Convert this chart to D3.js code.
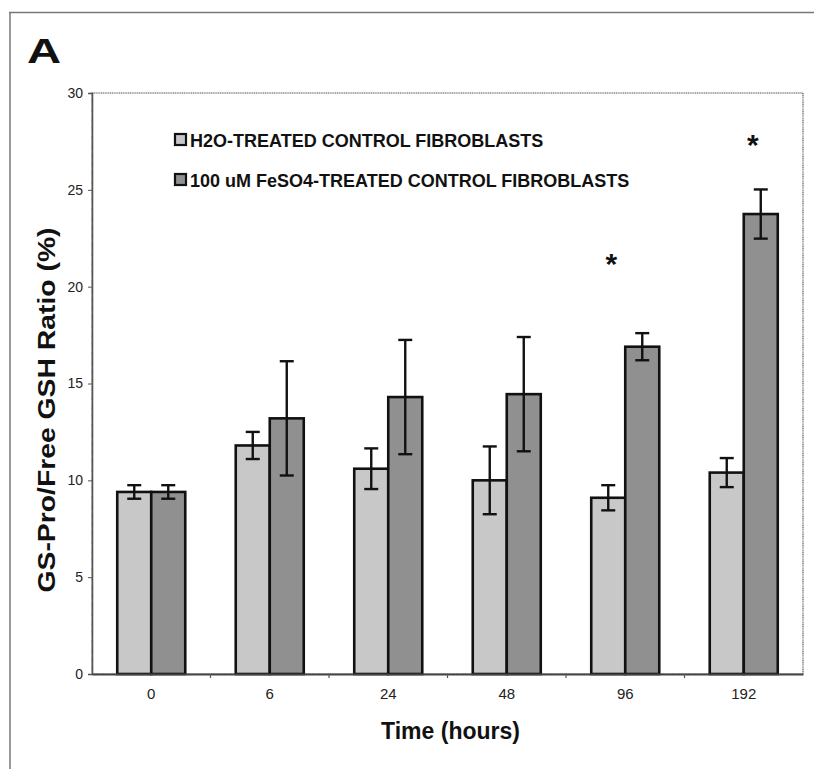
<!DOCTYPE html>
<html>
<head>
<meta charset="utf-8">
<script src="https://cdn.jsdelivr.net/npm/d3@7"></script>
<style>
  html, body { margin: 0; padding: 0; background: #fff; }
  svg { display: block; }
  text { font-family: "Liberation Sans", Arial, sans-serif; }
</style>
</head>
<body>
<svg id="chart" width="814" height="769"></svg>
<script>
// ---- data ----
const categories = ["0", "6", "24", "48", "96", "192"];
const seriesNames = ["H2O-TREATED CONTROL FIBROBLASTS", "100 uM FeSO4-TREATED CONTROL FIBROBLASTS"];
const h2oValues = [9.4, 11.8, 10.6, 10.0, 9.1, 10.4];
const h2oErrors = [0.35, 0.7, 1.05, 1.75, 0.65, 0.75];
const feValues = [9.4, 13.2, 14.3, 14.45, 16.9, 23.75];
const feErrors = [0.35, 2.95, 2.95, 2.95, 0.7, 1.27];
const yTicks = [0, 5, 10, 15, 20, 25, 30];
const asteriskCats = ["96", "192"];
const asteriskValues = [21.4, 27.5];
const asteriskShift = [-14, 9];
const panelLabel = "A";
const xTitle = "Time (hours)";
const yTitle = "GS-Pro/Free GSH Ratio (%)";

// ---- layout ----
const svg = d3.select("#chart");
const pLeft = 92, pRight = 803, pTop = 93, pBottom = 674;
const colors = ["#c8c8c8", "#909090"];

const x0 = d3.scaleBand().domain(categories).range([pLeft, pRight])
  .paddingInner(0.426).paddingOuter(0.213);
const x1 = d3.scaleBand().domain([0, 1]).range([0, x0.bandwidth()]);
const y = d3.scaleLinear().domain([0, 30]).range([pBottom, pTop]);

// figure frame (top and left lines)
svg.append("line").attr("x1", 9).attr("x2", 814).attr("y1", 12.5).attr("y2", 12.5)
  .attr("stroke", "#777").attr("stroke-width", 1.5);
svg.append("line").attr("x1", 10).attr("x2", 10).attr("y1", 12).attr("y2", 769)
  .attr("stroke", "#777").attr("stroke-width", 1.5);

// panel label
svg.append("text").attr("transform", "translate(27,63) scale(1.35,1)").text(panelLabel)
  .attr("font-size", 35).attr("font-weight", "bold").attr("fill", "#111");

// plot area border
svg.append("rect").attr("x", pLeft).attr("y", pTop)
  .attr("width", pRight - pLeft).attr("height", pBottom - pTop)
  .attr("fill", "none").attr("stroke", "#8a8a8a").attr("stroke-width", 1.6)
  .attr("stroke-dasharray", "1.2,0.6");

// bars
const data = categories.map((c, i) => ({
  cat: c,
  vals: [
    { s: 0, v: h2oValues[i], e: h2oErrors[i] },
    { s: 1, v: feValues[i], e: feErrors[i] }
  ]
}));

const groups = svg.append("g").selectAll("g").data(data).join("g")
  .attr("transform", d => `translate(${x0(d.cat)},0)`);

groups.selectAll("rect").data(d => d.vals).join("rect")
  .attr("x", d => x1(d.s))
  .attr("y", d => y(d.v))
  .attr("width", x1.bandwidth())
  .attr("height", d => y(0) - y(d.v))
  .attr("fill", d => colors[d.s])
  .attr("stroke", "#111").attr("stroke-width", 2.6);

// error bars
const capW = 7;
const eb = groups.selectAll("g.err").data(d => d.vals).join("g").attr("class", "err")
  .attr("stroke", "#111").attr("stroke-width", 2.4);
eb.append("line")
  .attr("x1", d => x1(d.s) + x1.bandwidth() / 2).attr("x2", d => x1(d.s) + x1.bandwidth() / 2)
  .attr("y1", d => y(d.v + d.e)).attr("y2", d => y(d.v - d.e));
eb.append("line")
  .attr("x1", d => x1(d.s) + x1.bandwidth() / 2 - capW).attr("x2", d => x1(d.s) + x1.bandwidth() / 2 + capW)
  .attr("y1", d => y(d.v + d.e)).attr("y2", d => y(d.v + d.e));
eb.append("line")
  .attr("x1", d => x1(d.s) + x1.bandwidth() / 2 - capW).attr("x2", d => x1(d.s) + x1.bandwidth() / 2 + capW)
  .attr("y1", d => y(d.v - d.e)).attr("y2", d => y(d.v - d.e));

// y axis
const yAxis = svg.append("g").attr("transform", `translate(${pLeft},0)`)
  .call(d3.axisLeft(y).tickValues(yTicks).tickSize(4).tickPadding(5));
yAxis.select(".domain").attr("stroke", "#555").attr("stroke-width", 1.6);
yAxis.selectAll(".tick line").attr("stroke", "#555");
yAxis.selectAll("text").attr("font-size", 14).attr("fill", "#222")
  .attr("font-family", "'Liberation Sans', Arial, sans-serif");

// x axis
const xAxis = svg.append("g").attr("transform", `translate(0,${pBottom})`)
  .call(d3.axisBottom(x0).tickSize(0).tickPadding(14));
xAxis.select(".domain").attr("stroke", "#444").attr("stroke-width", 1.8);
xAxis.selectAll("text").attr("font-size", 15).attr("fill", "#222")
  .attr("font-family", "'Liberation Sans', Arial, sans-serif");
// category separator ticks
const seps = categories.slice(1).map(c => x0(c) - x0.step() * x0.paddingInner() / 2);
svg.append("g").selectAll("line").data(seps).join("line")
  .attr("x1", d => d).attr("x2", d => d).attr("y1", pBottom).attr("y2", pBottom + 4)
  .attr("stroke", "#555").attr("stroke-width", 1.2);

// asterisks
svg.append("g").selectAll("text").data(asteriskCats).join("text")
  .attr("x", (d, i) => x0(d) + x0.bandwidth() / 2 + asteriskShift[i])
  .attr("y", (d, i) => y(asteriskValues[i]) + 14)
  .attr("text-anchor", "middle").attr("font-size", 30).attr("font-weight", "bold")
  .attr("fill", "#111").text("*");

// legend
const legend = svg.append("g").selectAll("g").data(seriesNames).join("g")
  .attr("transform", (d, i) => `translate(175,${140 + i * 40})`);
legend.append("rect").attr("x", 0).attr("y", -6).attr("width", 11).attr("height", 11)
  .attr("fill", (d, i) => colors[i]).attr("stroke", "#111").attr("stroke-width", 2.2);
legend.append("text").attr("x", 15).attr("y", 6.5).text(d => d)
  .attr("font-size", 18).attr("font-weight", "bold").attr("fill", "#111");

// axis titles
svg.append("text").attr("x", (pLeft + pRight) / 2 + 3).attr("y", 739)
  .attr("text-anchor", "middle").attr("font-size", 23).attr("font-weight", "bold")
  .attr("fill", "#111").text(xTitle);
svg.append("text").attr("transform", `translate(55,410) rotate(-90)`)
  .attr("text-anchor", "middle").attr("font-size", 23).attr("font-weight", "bold")
  .attr("textLength", 365).attr("lengthAdjust", "spacingAndGlyphs")
  .attr("fill", "#111").text(yTitle);
</script>
</body>
</html>
